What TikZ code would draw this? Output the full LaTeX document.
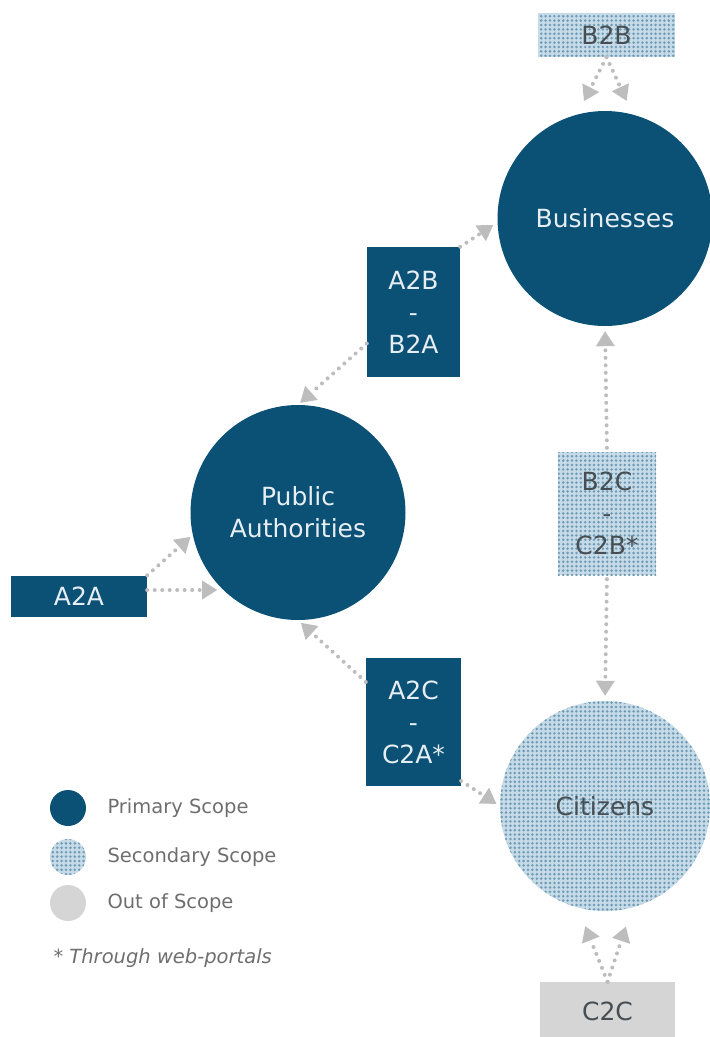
\documentclass[tikz,border=0pt]{standalone}
\usepackage{fontspec}
\setmainfont{DejaVu Sans}
\usetikzlibrary{arrows.meta,patterns.meta}

\definecolor{prim}{HTML}{0B5075}
\definecolor{primtext}{HTML}{E6EEF3}
\definecolor{secbg}{HTML}{C6DBE7}
\definecolor{secdot}{HTML}{6F9BB6}
\definecolor{outgray}{HTML}{D5D5D5}
\definecolor{conn}{HTML}{BDBDBD}
\definecolor{darktext}{HTML}{464E54}
\definecolor{legtext}{HTML}{6E6E6E}

\tikzset{
  bigtext/.style={font=\fontsize{25}{32}\selectfont, align=center},
  secfill/.style={preaction={fill=secbg}, pattern={Dots[distance=4.4pt,radius=1.4pt]},
    pattern color=secdot},
  primcircle/.style={circle, fill=prim, inner sep=0pt, minimum size=215pt,
    text=primtext, bigtext},
  seccircle/.style={circle, inner sep=0pt, minimum size=210pt, secfill,
    text=darktext, bigtext},
  primbox/.style={rectangle, fill=prim, inner sep=0pt, text=primtext, bigtext},
  secbox/.style={rectangle, inner sep=0pt, secfill, text=darktext, bigtext},
  outbox/.style={rectangle, inner sep=0pt, fill=outgray, text=darktext, bigtext},
  link/.style={draw=conn, line width=4pt, line cap=round,
    dash pattern=on 0pt off 7.5pt,
    -{Triangle[length=15pt,width=19pt,line width=0pt]}},
  legdot/.style={circle, inner sep=0pt, minimum size=36pt},
  legtext/.style={anchor=west, text=legtext, font=\fontsize{19.5}{24}\selectfont},
}

\begin{document}
\begin{tikzpicture}[x=1pt,y=-1pt]
  \useasboundingbox (0,0) rectangle (710,1037);

  % main actors
  \node[primcircle] (bus) at (605,218.5) {Businesses};
  \node[primcircle] (pa)  at (298,512.5) {Public\\Authorities};
  \node[seccircle]  (cit) at (605,806)   {Citizens};

  % interaction boxes
  \node[secbox,  minimum width=137pt, minimum height=44pt]  (b2b) at (606.5,35)  {B2B};
  \node[primbox, minimum width=93pt,  minimum height=130pt] (a2b) at (413.5,312) {A2B\\-\\B2A};
  \node[primbox, minimum width=136pt, minimum height=41pt]  (a2a) at (79,596)    {A2A};
  \node[secbox,  minimum width=98pt,  minimum height=123pt] (b2c) at (607,513.5) {B2C\\-\\C2B*};
  \node[primbox, minimum width=95pt,  minimum height=128pt] (a2c) at (413.5,722) {A2C\\-\\C2A*};
  \node[outbox,  minimum width=135pt, minimum height=58pt]  (c2c) at (607.5,1011) {C2C};

  % connectors
  \draw[link, shorten >=15pt] (b2b.south) -- (bus.105);
  \draw[link, shorten >=15pt] (b2b.south) -- (bus.75);
  \draw[link, shorten >=5pt]  (a2b.north east) -- (bus.182);
  \draw[link, shorten >=3pt]  (a2b.214) -- (pa.north);
  \draw[link, shorten >=3pt]  (a2a.north east) -- (pa.192);
  \draw[link, shorten >=6pt]  (a2a.5) -- (pa.226);
  \draw[link, shorten >=4pt]  (a2c.140) -- (pa.south);
  \draw[link, shorten >=4pt]  (a2c.-51) -- (cit.west);
  \draw[link, shorten >=5pt, shorten <=4pt] (b2c.north) -- (bus.south);
  \draw[link, shorten >=5pt, shorten <=4pt] (b2c.south) -- (cit.north);
  \draw[link, shorten >=20pt] (c2c.north) -- (cit.255);
  \draw[link, shorten >=20pt] (c2c.north) -- (cit.285);

  % legend
  \node[legdot, fill=prim] (lp) at (68,808) {};
  \node[legdot, secfill] (ls) at (68,857) {};
  \node[legdot, fill=outgray] (lo) at (68,903) {};
  \node[legtext] (lpt) at (104,808) {Primary Scope};
  \node[legtext] (lst) at (104,857) {Secondary Scope};
  \node[legtext] (lot) at (104,903) {Out of Scope};
  \node[legtext, font=\fontsize{19.5}{24}\selectfont\itshape] (note) at (50,958) {* Through web-portals};
\end{tikzpicture}
\end{document}
